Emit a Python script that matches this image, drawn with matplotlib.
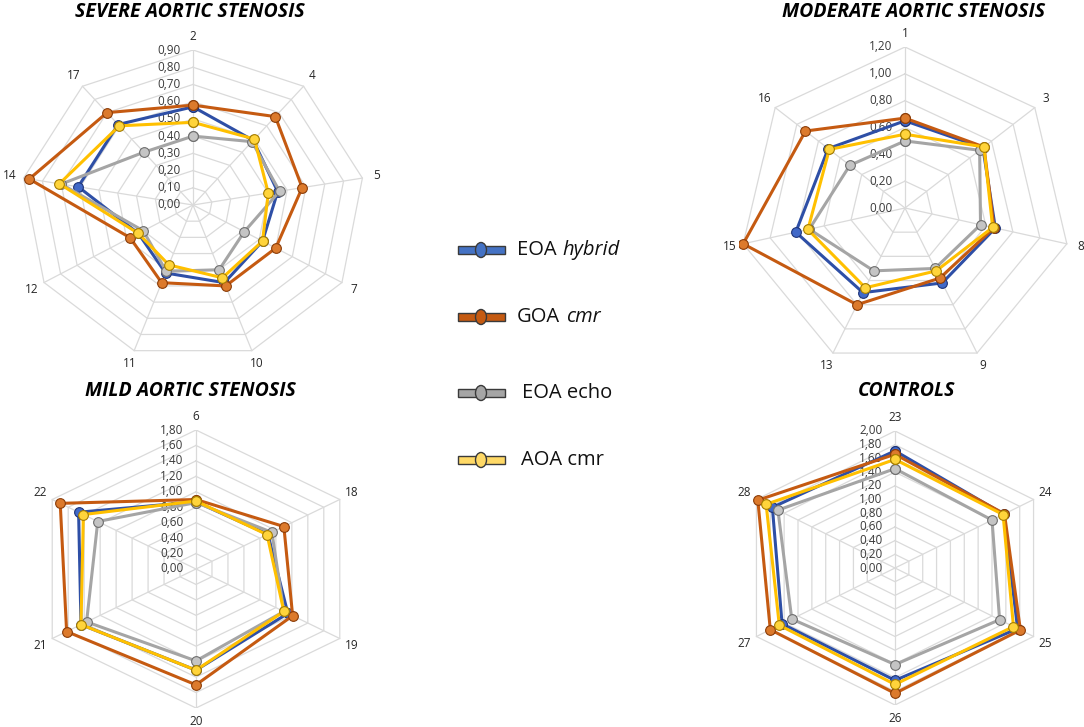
import numpy as np
import matplotlib.pyplot as plt
from matplotlib.patches import Rectangle, Ellipse

# figure size in pixels
W, H = 1084, 727

# ---- data ----
severe_labels = ['2', '4', '5', '7', '10', '11', '12', '14', '17']
severe_eoa_hybrid = [0.57, 0.49, 0.45, 0.42, 0.48, 0.42, 0.33, 0.61, 0.61]
severe_goa_cmr = [0.58, 0.67, 0.58, 0.50, 0.50, 0.48, 0.38, 0.87, 0.70]
severe_eoa_echo = [0.40, 0.48, 0.46, 0.31, 0.40, 0.41, 0.30, 0.70, 0.40]
severe_aoa_cmr = [0.48, 0.50, 0.40, 0.42, 0.45, 0.37, 0.33, 0.71, 0.60]

moderate_labels = ['1', '3', '8', '9', '13', '15', '16']
moderate_eoa_hybrid = [0.65, 0.72, 0.67, 0.62, 0.70, 0.81, 0.71]
moderate_goa_cmr = [0.67, 0.73, 0.66, 0.58, 0.80, 1.20, 0.92]
moderate_eoa_echo = [0.50, 0.69, 0.56, 0.50, 0.52, 0.71, 0.51]
moderate_aoa_cmr = [0.55, 0.73, 0.65, 0.52, 0.66, 0.72, 0.70]

mild_labels = ['6', '18', '19', '20', '21', '22']
mild_eoa_hybrid = [0.87, 0.90, 1.15, 1.31, 1.44, 1.47]
mild_goa_cmr = [0.90, 1.10, 1.21, 1.50, 1.62, 1.70]
mild_eoa_echo = [0.86, 0.95, 1.10, 1.19, 1.37, 1.23]
mild_aoa_cmr = [0.88, 0.89, 1.10, 1.31, 1.44, 1.41]

control_labels = ['23', '24', '25', '26', '27', '28']
control_eoa_hybrid = [1.71, 1.57, 1.77, 1.64, 1.63, 1.77]
control_goa_cmr = [1.66, 1.58, 1.81, 1.83, 1.80, 1.98]
control_eoa_echo = [1.45, 1.40, 1.51, 1.41, 1.49, 1.69]
control_aoa_cmr = [1.585, 1.56, 1.71, 1.70, 1.67, 1.86]

# series styling: (line colour, marker face, marker edge)
styles = [
    ('#2E4FA6', '#4169C8', '#1E3478'),   # EOA hybrid
    ('#C55A11', '#DC7A2C', '#8A3C08'),   # GOA cmr
    ('#A5A5A5', '#C4C4C4', '#6E6E6E'),   # EOA echo
    ('#FFC000', '#FFD43B', '#A57C00'),   # AOA cmr
]

plt.rcParams['font.family'] = ['Open Sans', 'DejaVu Sans']

fig = plt.figure(figsize=(W / 100, H / 100), dpi=100)

# overlay axes in pixel units for titles and legend
over = fig.add_axes([0, 0, 1, 1])
over.set_xlim(0, W)
over.set_ylim(H, 0)
over.axis('off')


def radar(cx, cy, rh, rv, labels, series, vmax, step, fmt='{:.2f}'):
    ax = fig.add_axes([(cx - rh) / W, 1 - (cy + rv) / H, 2 * rh / W, 2 * rv / H])
    ax.set_xlim(-vmax, vmax)
    ax.set_ylim(-vmax, vmax)
    ax.axis('off')
    n = len(labels)
    theta = np.arange(n) * 2 * np.pi / n
    s, c = np.sin(theta), np.cos(theta)
    sc, cc = np.append(s, s[0]), np.append(c, c[0])

    # polygon grid + spokes
    rings = np.arange(step, vmax + step / 2, step)
    for r in rings:
        ax.plot(r * sc, r * cc, color='#DADADA', lw=0.9, zorder=1)
    for i in range(n):
        ax.plot([0, vmax * s[i]], [0, vmax * c[i]], color='#DADADA', lw=0.9, zorder=1)

    # value labels along top spoke
    for r in np.append(0, rings):
        ax.annotate(fmt.format(r).replace('.', ','), xy=(0, r), xytext=(-9, 0),
                    textcoords='offset points', ha='right', va='center',
                    fontsize=8.5, color='#3A3A3A', zorder=2)

    # category labels
    for i, lab in enumerate(labels):
        ax.annotate(lab, xy=(vmax * s[i], vmax * c[i]),
                    xytext=(10 * s[i], 10 * c[i]), textcoords='offset points',
                    ha='center', va='center', fontsize=8.5, color='#262626')

    for k, vals in enumerate(series):
        v = np.append(vals, vals[0])
        lc, mf, me = styles[k]
        ax.plot(v * sc, v * cc, color=lc, lw=2.2, zorder=3 + k,
                marker='o', ms=7, mfc=mf, mec=me, mew=0.8)
    return ax


radar(193, 205, 172, 155, severe_labels,
      [severe_eoa_hybrid, severe_goa_cmr, severe_eoa_echo, severe_aoa_cmr], 0.9, 0.1)
radar(905, 208, 166, 161, moderate_labels,
      [moderate_eoa_hybrid, moderate_goa_cmr, moderate_eoa_echo, moderate_aoa_cmr], 1.2, 0.2)
radar(196, 569, 166, 139, mild_labels,
      [mild_eoa_hybrid, mild_goa_cmr, mild_eoa_echo, mild_aoa_cmr], 1.8, 0.2)
radar(895, 568, 160, 137, control_labels,
      [control_eoa_hybrid, control_goa_cmr, control_eoa_echo, control_aoa_cmr], 2.0, 0.2)

# titles
title_kw = dict(fontsize=14, fontweight='bold', fontstyle='italic', ha='center', va='center')
over.text(190, 12, 'SEVERE AORTIC STENOSIS', **title_kw)
over.text(914, 12, 'MODERATE AORTIC STENOSIS', **title_kw)
over.text(190, 391, 'MILD AORTIC STENOSIS', **title_kw)
over.text(907, 391, 'CONTROLS', **title_kw)

# legend (drawn by hand)
legend_y = [250, 317, 393, 460]
legend_face = ['#4472C4', '#C55A11', '#A5A5A5', '#FFD966']
legend_main = ['EOA ', 'GOA ', 'EOA echo', 'AOA cmr']
legend_ital = ['hybrid', 'cmr', '', '']
legend_x = [517, 517, 522, 521]
for y, fc, m, it, tx in zip(legend_y, legend_face, legend_main, legend_ital, legend_x):
    over.add_patch(Rectangle((458, y - 4), 47, 8, fc=fc, ec='#3A3A3A', lw=1.0, zorder=3))
    over.add_patch(Ellipse((481, y), 11, 15, fc=fc, ec='#3A3A3A', lw=1.0, zorder=4))
    t = over.text(tx, y, m.strip(), fontsize=14.5, ha='left', va='center', color='#111111')
    if it:
        over.annotate(it, xy=(1, 0), xycoords=t, xytext=(4.5, 0), textcoords='offset points',
                      ha='left', va='bottom', fontsize=14.5, fontstyle='italic', color='#111111')

plt.savefig('out.png', dpi=100)
